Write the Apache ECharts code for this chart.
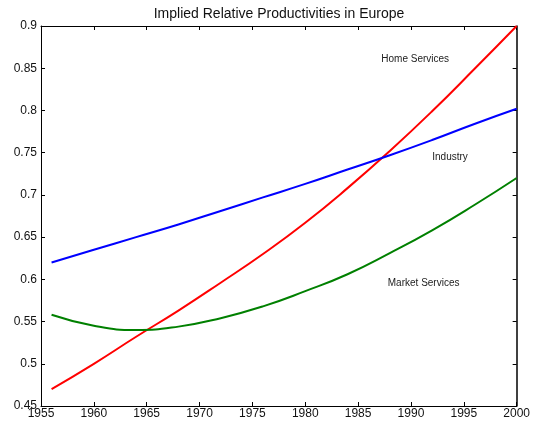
<!DOCTYPE html>
<html lang="en">
<head>
    <meta charset="UTF-8">
    <title>Implied Relative Productivities in Europe</title>
    <script src="https://cdn.jsdelivr.net/npm/echarts@6/dist/echarts.min.js"></script>
    <style>
        html, body { margin: 0; padding: 0; background: #fff; }
    </style>
</head>
<body>
    <div id="main" style="width: 533px;height:428px;"></div>
    <script type="text/javascript">
        // values
        var years = [1956, 1960, 1964, 1968, 1972, 1976, 1980, 1984, 1988, 1992, 1996, 2000];
        var homeValues = [0.470, 0.500, 0.532, 0.563, 0.596, 0.630, 0.667, 0.708, 0.752, 0.799, 0.849, 0.900];
        var industryValues = [0.620, 0.635, 0.650, 0.665, 0.681, 0.697, 0.713, 0.730, 0.747, 0.765, 0.784, 0.802];
        var marketValues = [0.558, 0.545, 0.540, 0.544, 0.554, 0.568, 0.586, 0.606, 0.631, 0.658, 0.688, 0.720];

        // text labels inside the plot: [name, year, value]
        var notes = [
            ['Home Services', 1990.4, 0.861],
            ['Industry', 1993.7, 0.7445],
            ['Market Services', 1991.2, 0.595]
        ];

        function pairs(xs, ys) {
            return xs.map(function (x, i) { return [x, ys[i]]; });
        }

        var font = 'Liberation Sans, Arial, sans-serif';

        function note(i) {
            return {
                symbol: 'circle',
                symbolSize: 0,
                silent: true,
                label: {
                    show: true,
                    position: 'inside',
                    formatter: notes[i][0],
                    color: '#222',
                    fontSize: 10,
                    fontFamily: font
                },
                data: [{ coord: [notes[i][1], notes[i][2]] }]
            };
        }

        var myChart = echarts.init(document.getElementById('main'));

        var option = {
            animation: false,
            backgroundColor: '#fff',
            title: {
                text: 'Implied Relative Productivities in Europe',
                left: 274,
                textAlign: 'center',
                top: 2,
                textStyle: {
                    fontSize: 14,
                    fontWeight: 'normal',
                    color: '#111',
                    fontFamily: font
                }
            },
            grid: {
                left: 41,
                right: 11,
                top: 26,
                bottom: 22
            },
            xAxis: [{
                type: 'value',
                min: 1955,
                max: 2000,
                interval: 5,
                axisLine: { lineStyle: { color: '#000', width: 1 } },
                axisTick: { inside: true, length: 4, lineStyle: { color: '#000' } },
                axisLabel: {
                    color: '#111', fontSize: 12, margin: 2, fontFamily: font,
                    formatter: function (v) { return String(v); }
                },
                splitLine: { show: false }
            }, {
                type: 'value',
                position: 'top',
                min: 1955,
                max: 2000,
                interval: 5,
                axisLine: { lineStyle: { color: '#000', width: 1 } },
                axisTick: { inside: true, length: 4, lineStyle: { color: '#000' } },
                axisLabel: { show: false },
                splitLine: { show: false }
            }],
            yAxis: [{
                type: 'value',
                min: 0.45,
                max: 0.9,
                interval: 0.05,
                axisLine: { show: true, lineStyle: { color: '#000', width: 1 } },
                axisTick: { show: true, inside: true, length: 4, lineStyle: { color: '#000' } },
                axisLabel: {
                    color: '#111', fontSize: 12, margin: 4, fontFamily: font,
                    formatter: function (v) { return String(+v.toFixed(2)); }
                },
                splitLine: { show: false }
            }, {
                type: 'value',
                position: 'right',
                min: 0.45,
                max: 0.9,
                interval: 0.05,
                axisLine: { show: true, lineStyle: { color: '#000', width: 1.5 } },
                axisTick: { show: true, inside: true, length: 4, lineStyle: { color: '#000' } },
                axisLabel: { show: false },
                splitLine: { show: false }
            }],
            series: [{
                name: 'Home Services',
                type: 'line',
                smooth: true,
                showSymbol: false,
                lineStyle: { color: '#ff0000', width: 2 },
                data: pairs(years, homeValues),
                markPoint: note(0)
            }, {
                name: 'Industry',
                type: 'line',
                smooth: true,
                showSymbol: false,
                lineStyle: { color: '#0000ff', width: 2 },
                data: pairs(years, industryValues),
                markPoint: note(1)
            }, {
                name: 'Market Services',
                type: 'line',
                smooth: true,
                showSymbol: false,
                lineStyle: { color: '#008000', width: 2 },
                data: pairs(years, marketValues),
                markPoint: note(2)
            }]
        };

        myChart.setOption(option);
    </script>
</body>
</html>
